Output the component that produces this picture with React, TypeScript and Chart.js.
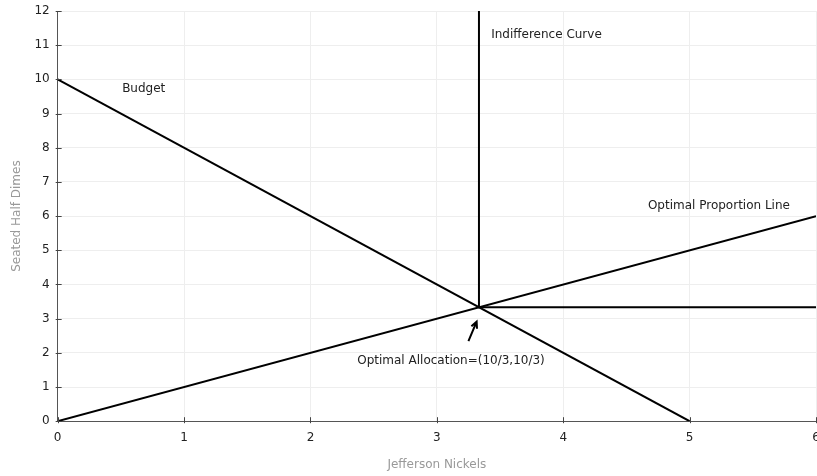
import React, { useEffect, useRef } from "react";
import { Chart, registerables } from "chart.js";

Chart.register(...registerables);

const budgetX = [0, 5];
const budgetY = [10, 0];
const proportionX = [0, 6];
const proportionY = [0, 6];
const indifferenceX = [10 / 3, 10 / 3, 6];
const indifferenceY = [12, 10 / 3, 10 / 3];

const labelTexts = ["Budget", "Indifference Curve", "Optimal Proportion Line", "Optimal Allocation=(10/3,10/3)"];
const labelX = [0.51, 3.43, 4.67, 2.37];
const labelY = [9.72, 11.3, 6.3, 1.76];

const arrowFrom = [3.25, 2.34];
const arrowTo = [3.315, 2.91];

const xTitle = "Jefferson Nickels";
const yTitle = "Seated Half Dimes";

const FONT = "'DejaVu Sans', sans-serif";

const toPts = (xs: number[], ys: number[]) => xs.map((x, i) => ({ x, y: ys[i] }));

const annotationPlugin = {
  id: "annotations",
  afterDatasetsDraw(chart: any) {
    const { ctx, scales } = chart;
    const xs = scales.x;
    const ys = scales.y;
    ctx.save();
    ctx.font = `12px ${FONT}`;
    ctx.fillStyle = "#222";
    ctx.textAlign = "left";
    ctx.textBaseline = "middle";
    labelTexts.forEach((t, i) => {
      ctx.fillText(t, xs.getPixelForValue(labelX[i]), ys.getPixelForValue(labelY[i]));
    });
    // arrow
    const x1 = xs.getPixelForValue(arrowFrom[0]);
    const y1 = ys.getPixelForValue(arrowFrom[1]);
    const x2 = xs.getPixelForValue(arrowTo[0]);
    const y2 = ys.getPixelForValue(arrowTo[1]);
    ctx.strokeStyle = "#000";
    ctx.lineWidth = 2;
    ctx.beginPath();
    ctx.moveTo(x1, y1);
    ctx.lineTo(x2, y2);
    const ang = Math.atan2(y2 - y1, x2 - x1);
    const hl = 7;
    ctx.moveTo(x2 - hl * Math.cos(ang - 0.45), y2 - hl * Math.sin(ang - 0.45));
    ctx.lineTo(x2, y2);
    ctx.lineTo(x2 - hl * Math.cos(ang + 0.45), y2 - hl * Math.sin(ang + 0.45));
    ctx.stroke();
    // tick marks crossing axes
    const area = chart.chartArea;
    ctx.strokeStyle = "#444";
    ctx.lineWidth = 1;
    ctx.beginPath();
    xs.ticks.forEach((tk: any) => {
      const px = Math.round(xs.getPixelForValue(tk.value)) + 0.5;
      ctx.moveTo(px, area.bottom - 4);
      ctx.lineTo(px, area.bottom + 2);
    });
    ys.ticks.forEach((tk: any) => {
      const py = Math.round(ys.getPixelForValue(tk.value)) + 0.5;
      ctx.moveTo(area.left - 2, py);
      ctx.lineTo(area.left + 4, py);
    });
    ctx.stroke();
    ctx.restore();
  },
};

export default function App() {
  const ref = useRef<HTMLCanvasElement | null>(null);
  useEffect(() => {
    if (!ref.current) return;
    const lineDs = (label: string, data: any[]) => ({
      label,
      data,
      borderColor: "#000",
      backgroundColor: "#000",
      borderWidth: 2,
      pointRadius: 0,
      showLine: true,
      fill: false,
      tension: 0,
    });
    const chart = new Chart(ref.current, {
      type: "scatter",
      data: {
        datasets: [
          lineDs("Budget", toPts(budgetX, budgetY)),
          lineDs("Optimal Proportion Line", toPts(proportionX, proportionY)),
          lineDs("Indifference Curve", toPts(indifferenceX, indifferenceY)),
        ],
      },
      options: {
        animation: false,
        responsive: false,
        maintainAspectRatio: false,
        layout: { padding: { left: 6, top: 11, right: 1, bottom: 4 } },
        plugins: { legend: { display: false }, tooltip: { enabled: false } },
        scales: {
          x: {
            type: "linear",
            min: 0,
            max: 6,
            ticks: { stepSize: 1, color: "#222", font: { family: FONT, size: 12 }, padding: 9, maxRotation: 0 },
            grid: { color: "#eeeeee", drawTicks: false },
            border: { color: "#555", width: 1 },
            title: { display: true, text: xTitle, color: "#999", font: { family: FONT, size: 12 }, padding: { top: 4, bottom: 0 } },
            afterFit: (s: any) => { s.paddingRight = 0; s.paddingLeft = 0; },
          },
          y: {
            type: "linear",
            min: 0,
            max: 12,
            ticks: { stepSize: 1, color: "#222", font: { family: FONT, size: 12 }, padding: 8 },
            grid: { color: "#eeeeee", drawTicks: false },
            border: { color: "#555", width: 1 },
            title: { display: true, text: yTitle, color: "#999", font: { family: FONT, size: 12 }, padding: { top: 4, bottom: 2 } },
            afterFit: (s: any) => { s.paddingTop = 0; s.paddingBottom = 0; },
          },
        },
      } as any,
      plugins: [annotationPlugin],
    });
    return () => chart.destroy();
  }, []);
  return (
    <div style={{ position: "fixed", left: 0, top: 0, width: 817, height: 476, overflow: "hidden", background: "#fff" }}>
      <canvas ref={ref} width={817} height={476} style={{ display: "block", width: 817, height: 476 }} />
    </div>
  );
}
